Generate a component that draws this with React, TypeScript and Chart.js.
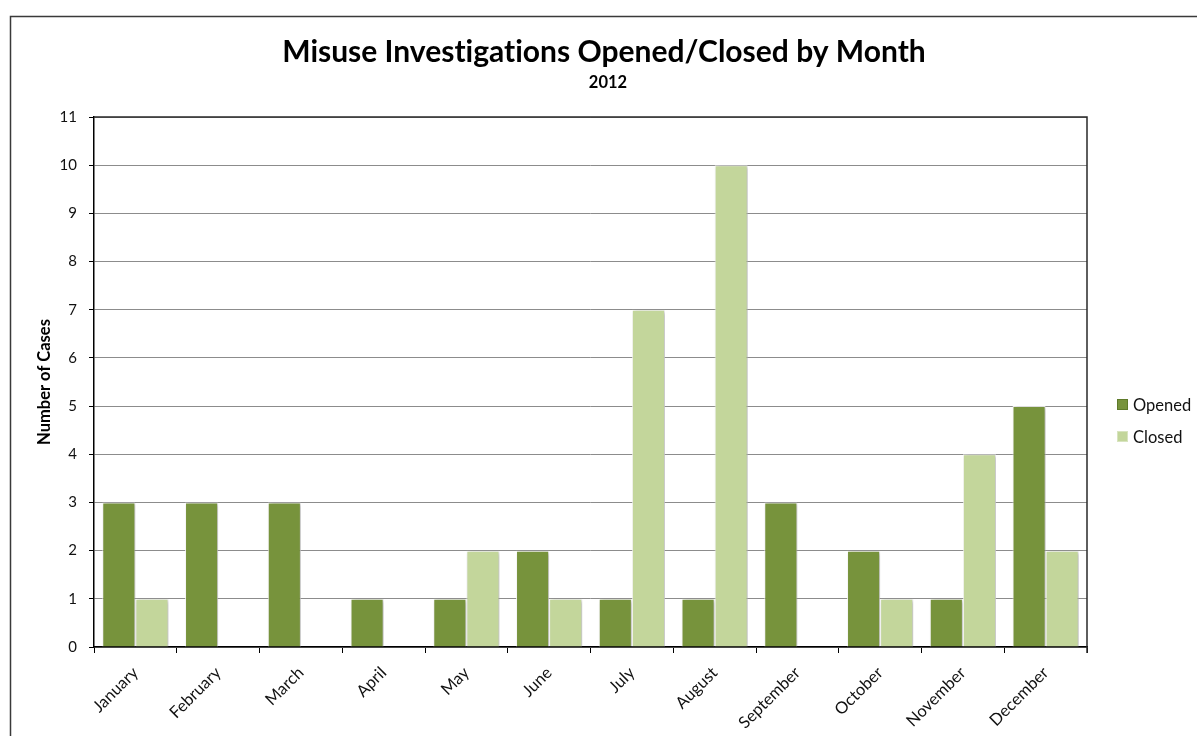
import React, { useEffect, useRef } from "react";
import { Chart, registerables } from "chart.js";

Chart.register(...registerables);

const months = [
  "January", "February", "March", "April", "May", "June",
  "July", "August", "September", "October", "November", "December",
];
const opened = [3, 3, 3, 1, 1, 2, 1, 1, 3, 2, 1, 5];
const closed = [1, 0, 0, 0, 2, 1, 7, 10, 0, 1, 4, 2];
const seriesLabels = ["Opened", "Closed"];
const seriesColors = ["#77933C", "#C3D69B"];
const yMin = 0;
const yMax = 11;
const yStep = 1;
const titleText = "Misuse Investigations Opened/Closed by Month";
const subtitleText = "2012";
const yTitleText = "Number of Cases";

const FONT = "Lato, 'Open Sans', sans-serif";

const decor = {
  id: "decor",
  beforeDraw(chart: any) {
    const ctx = chart.ctx;
    ctx.save();
    ctx.fillStyle = "#ffffff";
    ctx.fillRect(0, 0, chart.width, chart.height);
    ctx.restore();
  },
  beforeDatasetsDraw(chart: any) {
    const ctx = chart.ctx;
    ctx.save();
    ctx.shadowColor = "rgba(0,0,0,0.28)";
    ctx.shadowBlur = 4;
    ctx.shadowOffsetX = 2;
    ctx.shadowOffsetY = 1;
  },
  afterDatasetsDraw(chart: any) {
    chart.ctx.restore();
  },
  afterDraw(chart: any) {
    const ctx = chart.ctx;
    const a = chart.chartArea;
    ctx.save();
    // outer chart border
    ctx.strokeStyle = "#3a3a3a";
    ctx.lineWidth = 1.5;
    ctx.strokeRect(10.5, 16.5, 1400, 900);
    // plot area top & right border
    ctx.strokeStyle = "#2a2a2a";
    ctx.lineWidth = 1.5;
    ctx.beginPath();
    ctx.moveTo(a.left, a.top);
    ctx.lineTo(a.right, a.top);
    ctx.lineTo(a.right, a.bottom + 6);
    ctx.stroke();
    // titles
    try { (ctx as any).textRendering = "optimizeSpeed"; } catch (e) {}
    ctx.fillStyle = "#000";
    ctx.textAlign = "center";
    ctx.textBaseline = "alphabetic";
    ctx.font = `bold 30px ${FONT}`;
    ctx.fillText(titleText, 604, 62);
    ctx.font = `bold 16.5px ${FONT}`;
    ctx.fillText(subtitleText, 608, 88);
    // legend
    ctx.textAlign = "left";
    ctx.textBaseline = "middle";
    ctx.font = `16.5px ${FONT}`;
    chart.data.datasets.forEach((ds: any, i: number) => {
      const y = 405 + i * 32;
      ctx.fillStyle = ds.backgroundColor;
      ctx.fillRect(1117, y - 6, 11, 11);
      ctx.strokeStyle = i === 0 ? "#5e7a2a" : "#d8e4bf";
      ctx.lineWidth = 1;
      ctx.strokeRect(1117.5, y - 5.5, 10, 10);
      ctx.fillStyle = "#111";
      ctx.fillText(ds.label, 1133, y + 1);
    });
    ctx.restore();
  },
};

export default function App() {
  const ref = useRef<HTMLCanvasElement | null>(null);
  useEffect(() => {
    if (!ref.current) return;
    const chart = new Chart(ref.current, {
      type: "bar",
      data: {
        labels: months,
        datasets: [
          {
            label: seriesLabels[0],
            data: opened,
            backgroundColor: seriesColors[0],
            borderColor: "rgba(255,255,255,0.85)",
            borderWidth: 1,
            categoryPercentage: 0.8,
            barPercentage: 1.0,
          },
          {
            label: seriesLabels[1],
            data: closed,
            backgroundColor: seriesColors[1],
            borderColor: "rgba(255,255,255,0.85)",
            borderWidth: 1,
            categoryPercentage: 0.8,
            barPercentage: 1.0,
          },
        ],
      },
      options: {
        responsive: false,
        animation: false,
        layout: { padding: { top: 117, left: 10, right: 110, bottom: 0 } },
        plugins: {
          legend: { display: false },
          title: { display: false },
          tooltip: { enabled: false },
        },
        scales: {
          x: {
            afterFit: (s: any) => { s.height = 89; },
            grid: {
              drawOnChartArea: false,
              drawTicks: true,
              tickLength: 6,
              tickColor: "#000",
              offset: true,
            },
            border: { color: "#000", width: 1.5 },
            ticks: {
              maxRotation: 45,
              minRotation: 45,
              autoSkip: false,
              padding: 10,
              color: "#111",
              font: { family: FONT, size: 16.5 },
            },
          },
          y: {
            min: yMin,
            max: yMax,
            afterFit: (s: any) => { s.width = 84; },
            grid: {
              color: "#8c8c8c",
              lineWidth: 1,
              tickLength: 5,
              tickColor: "#000",
            },
            border: { color: "#000", width: 1.5 },
            ticks: {
              stepSize: yStep,
              padding: 12,
              color: "#111",
              font: { family: FONT, size: 15 },
            },
            title: {
              display: true,
              text: yTitleText,
              color: "#000",
              padding: { top: 25, bottom: 0 },
              font: { family: FONT, size: 16.5, weight: "bold" },
            },
          },
        },
      },
      plugins: [decor],
    });
    return () => chart.destroy();
  }, []);
  return (
    <div style={{ position: "absolute", left: 0, top: 0, width: 1197, height: 736 }}>
      <canvas ref={ref} width={1197} height={736} />
    </div>
  );
}
